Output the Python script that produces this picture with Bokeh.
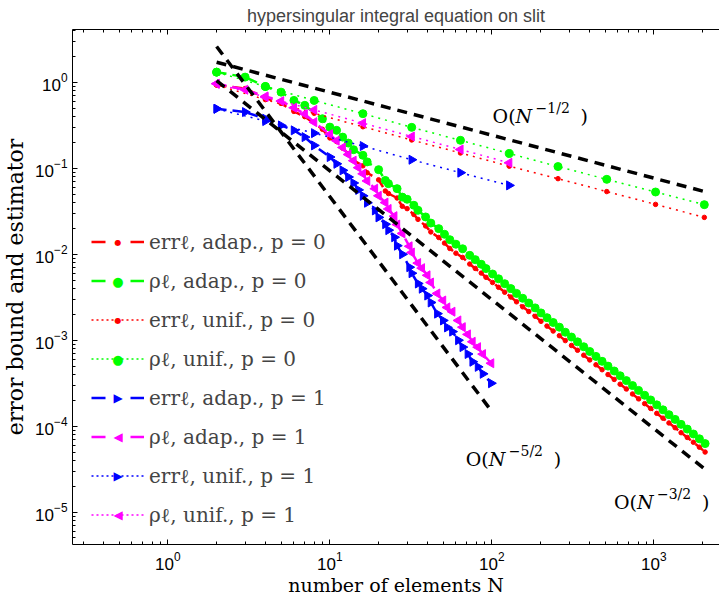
import numpy as np
from bokeh.plotting import figure
from bokeh.models import (Range1d, LogAxis, FixedTicker, Legend, LegendItem, Label,
                          CustomJSTickFormatter)
from bokeh.embed import file_html
from bokeh.resources import INLINE

# ---------------- data ----------------
N_unif_p0 = [2, 4, 8, 16, 32, 64, 128, 256, 512, 1024, 2048]
err_unif_p0 = [0.933, 0.631, 0.437, 0.305, 0.214, 0.151, 0.106, 0.0759, 0.0537, 0.0381, 0.0269]
rho_unif_p0 = [1.318, 0.897, 0.617, 0.433, 0.300, 0.212, 0.149, 0.105, 0.0745, 0.0531, 0.0378]

N_unif_p1 = [2, 4, 8, 16, 32, 64, 128]
err_unif_p1 = [0.494, 0.355, 0.257, 0.182, 0.126, 0.0891, 0.0634]
rho_unif_p1 = [0.966, 0.676, 0.479, 0.336, 0.235, 0.166, 0.116]

N_adap_p0 = [2, 3, 4, 5, 6, 7, 9, 10, 11, 12, 13, 14, 16, 17, 20, 22, 23, 26, 28, 30, 33, 35,
             39, 42, 47, 51, 55, 60, 66, 73, 79, 86, 92, 101, 110, 120, 131, 142, 155, 169, 185,
             201, 219, 239, 261, 284, 310, 338, 369, 402, 439, 479, 521, 569, 619, 676, 738, 804,
             877, 955, 1042, 1138, 1239, 1352, 1472, 1607, 1754, 1910, 2071]
rho_adap_p0 = [1.318, 1.153, 0.897, 0.771, 0.618, 0.541, 0.378, 0.302, 0.277, 0.231, 0.197, 0.165,
               0.142, 0.119, 0.0966, 0.0724, 0.0664, 0.0581, 0.0463, 0.0437, 0.0372, 0.0325,
               0.0272, 0.0231, 0.0199, 0.0171, 0.0148, 0.0131, 0.0116, 0.00973, 0.00867, 0.00766,
               0.00682, 5.9e-3, 5.19e-3, 4.55e-3, 3.99e-3, 3.51e-3, 3.08e-3, 2.71e-3, 2.38e-3,
               2.08e-3, 1.83e-3, 1.61e-3, 1.42e-3, 1.24e-3, 1.09e-3, 9.58e-4, 8.4e-4, 7.4e-4,
               6.49e-4, 5.69e-4, 5.0e-4, 4.39e-4, 3.86e-4, 3.39e-4, 2.97e-4, 2.61e-4, 2.29e-4,
               2.02e-4, 1.77e-4, 1.55e-4, 1.36e-4, 1.2e-4, 1.05e-4, 9.25e-5, 8.11e-5, 7.13e-5,
               6.27e-5]
err_adap_p0 = [0.933, 0.85, 0.66, 0.57, 0.46, 0.40, 0.285, 0.226, 0.205, 0.172, 0.148, 0.124,
               0.107, 0.089, 0.0735, 0.0545, 0.0510, 0.0452, 0.0362, 0.0340, 0.0291, 0.0255,
               0.0214, 0.0182, 0.0157, 0.0135, 0.0117, 0.0103, 0.0092, 0.0077, 0.00685, 0.00605,
               0.00540, 4.7e-3, 4.13e-3, 3.62e-3, 3.18e-3, 2.8e-3, 2.45e-3, 2.16e-3, 1.9e-3,
               1.66e-3, 1.46e-3, 1.28e-3, 1.13e-3, 9.9e-4, 8.7e-4, 7.64e-4, 6.7e-4, 5.9e-4,
               5.18e-4, 4.54e-4, 3.99e-4, 3.5e-4, 3.08e-4, 2.71e-4, 2.37e-4, 2.08e-4, 1.83e-4,
               1.61e-4, 1.41e-4, 1.24e-4, 1.09e-4, 9.6e-5, 8.4e-5, 7.4e-5, 6.5e-5, 5.7e-5, 5.0e-5]

N_adap_p1 = [2, 3, 4, 5, 6, 7, 8, 10, 11, 12, 13, 14, 15, 16, 17, 19, 20, 22, 23, 25, 26, 28,
             31, 32, 35, 37, 40, 42, 46, 50, 53, 57, 62, 66, 71, 76, 82, 88, 99]
err_adap_p1 = [0.494, 0.452, 0.378, 0.316, 0.277, 0.231, 0.185, 0.1355, 0.113, 0.0948, 0.0794,
               0.0676, 0.0562, 0.0479, 0.0398, 0.0324, 0.0269, 0.0224, 0.0191, 0.0158, 0.0126,
               0.0100, 0.00708, 0.00603, 0.00457, 0.00398, 0.00331, 0.00275, 0.00204, 0.00170,
               0.00141, 0.00126, 0.00100, 0.000832, 0.000692, 0.000562, 0.000490, 0.000407,
               0.000316]
rho_adap_p1 = [0.966, 0.822, 0.687, 0.607, 0.508, 0.43, 0.345, 0.25, 0.21, 0.175, 0.145, 0.123,
               0.102, 0.0865, 0.0715, 0.058, 0.048, 0.040, 0.0337, 0.0278, 0.0222, 0.0175,
               0.0124, 0.0105, 0.0079, 0.0069, 0.0057, 0.0047, 0.00350, 0.00290, 0.00241,
               0.00215, 0.00170, 0.00142, 0.00117, 0.00096, 0.00083, 0.00069, 0.00054]

# reference slopes (end points)
ref_half_N = [2, 2048]
ref_half_y = [1.72, 0.0538]
ref_threehalf_N = [2, 2048]
ref_threehalf_y = [1.05, 3.2e-5]
ref_fivehalf_N = [2, 96]
ref_fivehalf_y = [2.62, 1.64e-4]

# annotation anchors (N, value) and exponents
rate_labels = [(101, 0.41, "\u22121/2"), (69, 4.18e-5, "\u22125/2"), (567, 1.31e-5, "\u22123/2")]

x_ticks = [1, 10, 100, 1000]
y_ticks = [1e-5, 1e-4, 1e-3, 1e-2, 1e-1, 1e0]

# ---------------- figure ----------------
RED, GREEN, BLUE, MAG = "#ff0000", "#00ff00", "#0000ff", "#ff00ff"

p = figure(width=719, height=601, x_axis_type="log", y_axis_type="log",
           x_range=Range1d(0.258, 2541), y_range=Range1d(4.2e-6, 4.13),
           output_backend="svg", toolbar_location=None,
           min_border_left=71, min_border_right=0, min_border_top=29, min_border_bottom=57)
p.xgrid.visible = False
p.ygrid.visible = False
p.outline_line_color = None
p.background_fill_color = "white"
p.border_fill_color = "white"

p.title.text = "hypersingular integral equation on slit"
p.title.align = "center"
p.title.vertical_align = "top"
p.title.text_font = "Liberation Sans"
p.title.text_font_size = "18px"
p.title.text_font_style = "normal"
p.title.standoff = 4

def minor_list(lo, hi):
    out = []
    for e in range(lo, hi):
        for m in range(2, 10):
            out.append(m * 10.0 ** e)
    return out

xt = FixedTicker(ticks=x_ticks, minor_ticks=minor_list(-1, 4))
yt = FixedTicker(ticks=y_ticks, minor_ticks=minor_list(-6, 1))

def style_axis(ax):
    ax.axis_line_color = "black"
    ax.axis_line_width = 1
    ax.major_tick_in = 5
    ax.major_tick_out = 0
    ax.minor_tick_in = 3
    ax.minor_tick_out = 0
    ax.major_tick_line_color = "black"
    ax.minor_tick_line_color = "black"
    ax.major_label_text_font = "Liberation Sans"
    ax.major_label_text_font_size = "17px"
    ax.major_label_text_color = "black"
    ax.axis_label_text_font = "DejaVu Serif"
    ax.axis_label_text_font_style = "normal"
    ax.axis_label_text_color = "black"

p.xaxis[0].ticker = xt
p.yaxis[0].ticker = yt
style_axis(p.xaxis[0])
style_axis(p.yaxis[0])
p.xaxis[0].major_label_standoff = 7
p.xaxis[0].axis_label = "number of elements N"
p.xaxis[0].axis_label_text_font_size = "19px"
p.xaxis[0].axis_label_standoff = 1
p.yaxis[0].major_label_standoff = 5
p.yaxis[0].axis_label = "error bound and estimator"
p.yaxis[0].axis_label_text_font_size = "22px"
p.yaxis[0].axis_label_standoff = 4

top = LogAxis(ticker=xt, formatter=CustomJSTickFormatter(code="return ''"))
style_axis(top)
top.major_label_text_font_size = "0px"
top.major_label_standoff = 0
p.add_layout(top, "above")

# ---------------- series ----------------
DASH = "10 6"
DOT = "2 5"
LEG_DASH = "14 25"
LEG_DOT = "2 3"
items = []
leg_markers = []

def series(N, v, color, dashed, marker, size, angle, label, leg_sym, leg_size):
    lw = 2.5 if dashed else 1.5
    p.line(N, v, line_color=color, line_width=lw, line_dash=DASH if dashed else DOT)
    p.scatter(N, v, marker=marker, size=size, angle=angle,
              fill_color=color, line_color=color, line_width=1)
    # one-point line: draws nothing in the plot, only supplies the legend sample style
    leg_line = p.line(N[:1], v[:1], line_color=color, line_width=lw,
                      line_dash=LEG_DASH if dashed else LEG_DOT)
    items.append(LegendItem(label=label, renderers=[leg_line]))
    leg_markers.append((leg_sym, color, leg_size))

CIRC, RT, LT = "\u25CF", "\u25B6", "\u25C0"
series(N_adap_p0, err_adap_p0, RED, True, "circle", 4.5, 0.0, "err\u2113, adap., p = 0", CIRC, "8px")
series(N_adap_p0, rho_adap_p0, GREEN, True, "circle", 8, 0.0, "\u03c1\u2113, adap., p = 0", CIRC, "13px")
series(N_unif_p0, err_unif_p0, RED, False, "circle", 4.5, 0.0, "err\u2113, unif., p = 0", CIRC, "8px")
series(N_unif_p0, rho_unif_p0, GREEN, False, "circle", 8, 0.0, "\u03c1\u2113, unif., p = 0", CIRC, "13px")
series(N_adap_p1, err_adap_p1, BLUE, True, "triangle", 9, -np.pi / 2, "err\u2113, adap., p = 1", RT, "12px")
series(N_adap_p1, rho_adap_p1, MAG, True, "triangle", 9, np.pi / 2, "\u03c1\u2113, adap., p = 1", LT, "12px")
series(N_unif_p1, err_unif_p1, BLUE, False, "triangle", 9, -np.pi / 2, "err\u2113, unif., p = 1", RT, "12px")
series(N_unif_p1, rho_unif_p1, MAG, False, "triangle", 9, np.pi / 2, "\u03c1\u2113, unif., p = 1", LT, "12px")

for rn, ry in [(ref_half_N, ref_half_y), (ref_threehalf_N, ref_threehalf_y),
               (ref_fivehalf_N, ref_fivehalf_y)]:
    p.line(rn, ry, line_color="black", line_width=3.5, line_dash="10 7")

# ---------------- rate annotations ----------------
for (xn, yv, ex) in rate_labels:
    common = dict(x=xn, y=yv, text_font="DejaVu Serif", text_color="black",
                  text_baseline="alphabetic", text_align="left")
    p.add_layout(Label(text="O(", text_font_size="19px", x_offset=0, y_offset=0, **common))
    p.add_layout(Label(text="N", text_font_size="19px", text_font_style="italic",
                       x_offset=23, y_offset=0, **common))
    p.add_layout(Label(text=ex, text_font_size="14px", x_offset=43, y_offset=8, **common))
    p.add_layout(Label(text=")", text_font_size="19px", x_offset=88, y_offset=0, **common))

# ---------------- legend ----------------
LEG_X, LEG_Y, ROW_H, ROW_GAP, GLW = 19, 17, 25, 14, 53
legend = Legend(items=items, location=(LEG_X, LEG_Y), orientation="vertical",
                glyph_width=GLW, glyph_height=ROW_H, label_height=ROW_H, label_standoff=5,
                spacing=ROW_GAP, padding=0, margin=0,
                label_text_font="DejaVu Serif", label_text_font_size="20px",
                background_fill_alpha=0, border_line_alpha=0)
p.add_layout(legend)

# legend markers drawn as symbols in the centre of each legend sample
leg_top = LEG_Y + 8 * ROW_H + 7 * ROW_GAP
for row, (sym, col, fs) in enumerate(leg_markers):
    cy = leg_top - ROW_H / 2 - row * (ROW_H + ROW_GAP)
    p.add_layout(Label(x=LEG_X + GLW / 2, y=cy, x_units="screen", y_units="screen", text=sym,
                       text_font="DejaVu Sans", text_font_size=fs, text_color=col,
                       text_align="center", text_baseline="middle"))

open("out.html", "w").write(file_html(p, INLINE))
